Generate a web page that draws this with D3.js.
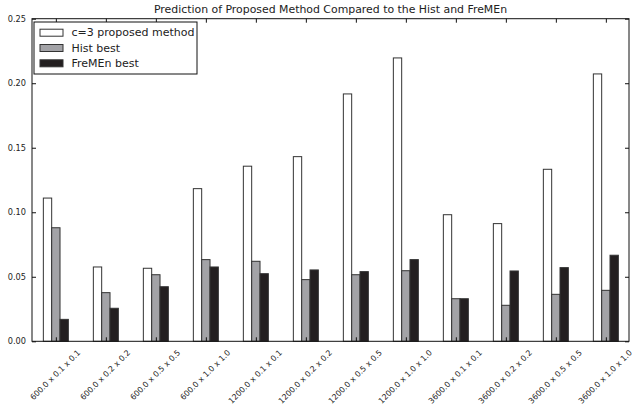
<!DOCTYPE html>
<html><head><meta charset="utf-8">
<script src="https://cdn.jsdelivr.net/npm/d3@7"></script>
<style>body{margin:0;background:#fff}svg{display:block}text{font-family:"DejaVu Sans",sans-serif;fill:#222}</style>
</head><body>
<script>
const categories = ["600.0 x 0.1 x 0.1","600.0 x 0.2 x 0.2","600.0 x 0.5 x 0.5","600.0 x 1.0 x 1.0",
  "1200.0 x 0.1 x 0.1","1200.0 x 0.2 x 0.2","1200.0 x 0.5 x 0.5","1200.0 x 1.0 x 1.0",
  "3600.0 x 0.1 x 0.1","3600.0 x 0.2 x 0.2","3600.0 x 0.5 x 0.5","3600.0 x 1.0 x 1.0"];
const proposed = [0.111,0.0576,0.0566,0.1183,0.1357,0.1431,0.1917,0.2196,0.0981,0.0912,0.1333,0.2072];
const histBest = [0.088,0.0377,0.0516,0.0633,0.062,0.0478,0.0516,0.0547,0.033,0.0279,0.0364,0.0395];
const fremenBest = [0.017,0.0256,0.0423,0.0576,0.0524,0.0553,0.054,0.0633,0.033,0.0545,0.0571,0.0667];
const yTicks = [0,0.05,0.10,0.15,0.20,0.25];
const seriesNames = ["c=3 proposed method","Hist best","FreMEn best"];
const seriesColors = ["#ffffff","#a3a3a7","#231f20"];
const series = [proposed, histBest, fremenBest];

const W=632,H=409, L=32, R=629, T=18.7, B=341.3;
const barW = 1/6;
const svg = d3.select("body").append("svg").attr("width",W).attr("height",H);
const x = d3.scaleLinear().domain([-0.227, 11.713]).range([L,R]);
const y = d3.scaleLinear().domain([0,0.25]).range([B,T]);

series.forEach((s,si)=>{
  svg.append("g").selectAll("rect").data(s).join("rect")
    .attr("x",(d,i)=>x(i+si*barW))
    .attr("width",x(barW)-x(0))
    .attr("y",d=>y(d)).attr("height",d=>y(0)-y(d))
    .attr("fill",seriesColors[si]).attr("stroke","#333").attr("stroke-width",1);
});

svg.append("rect").attr("x",L).attr("y",T).attr("width",R-L).attr("height",B-T)
  .attr("fill","none").attr("stroke","#111").attr("stroke-width",1);

const tk=4;
const yAxL = d3.axisLeft(y).tickValues(yTicks).tickFormat(d3.format(".2f")).tickSizeInner(-tk).tickSizeOuter(0).tickPadding(6);
const gl = svg.append("g").attr("transform",`translate(${L},0)`).call(yAxL);
const yAxR = d3.axisRight(y).tickValues(yTicks).tickFormat("").tickSizeInner(-tk).tickSizeOuter(0);
const gr = svg.append("g").attr("transform",`translate(${R},0)`).call(yAxR);
const xt = categories.map((c,i)=>i+1.5*barW);
const xAxB = d3.axisBottom(x).tickValues(xt).tickFormat("").tickSizeInner(-tk).tickSizeOuter(0);
const gb = svg.append("g").attr("transform",`translate(0,${B})`).call(xAxB);
const xAxT = d3.axisTop(x).tickValues(xt).tickFormat("").tickSizeInner(-tk).tickSizeOuter(0);
const gt = svg.append("g").attr("transform",`translate(0,${T})`).call(xAxT);
[gl,gr,gb,gt].forEach(g=>{g.select(".domain").remove();g.selectAll("line").attr("stroke","#111");});
gl.selectAll("text").attr("font-size",8.2).attr("fill","#222").style("font-family","DejaVu Sans");

const lg = svg.append("g");
categories.forEach((c,i)=>{
  const t = lg.append("text").text(c).attr("font-size",7.9).attr("text-anchor","middle").attr("dominant-baseline","central");
  const w = t.node().getComputedTextLength();
  const h = 6;
  const half = (w*Math.SQRT1_2 + h*Math.SQRT1_2)/2;
  t.attr("transform",`translate(${x(xt[i])-0.5},${B+8+half}) rotate(-45)`);
});

svg.append("text").attr("x",(L+R)/2).attr("y",12.5).attr("text-anchor","middle").attr("font-size",10.9)
  .text("Prediction of Proposed Method Compared to the Hist and FreMEn");

const leg = svg.append("g");
leg.append("rect").attr("x",34).attr("y",22).attr("width",163).attr("height",52).attr("fill","#fff").attr("stroke","#111").attr("stroke-width",1);
seriesNames.forEach((n,i)=>{
  const cy = 32.7 + i*15.3;
  leg.append("rect").attr("x",40).attr("y",cy-3.5).attr("width",23).attr("height",7)
    .attr("fill",seriesColors[i]).attr("stroke","#333").attr("stroke-width",1);
  leg.append("text").attr("x",71.5).attr("y",cy).attr("dominant-baseline","central").attr("font-size",11).text(n);
});
</script>
</body></html>
